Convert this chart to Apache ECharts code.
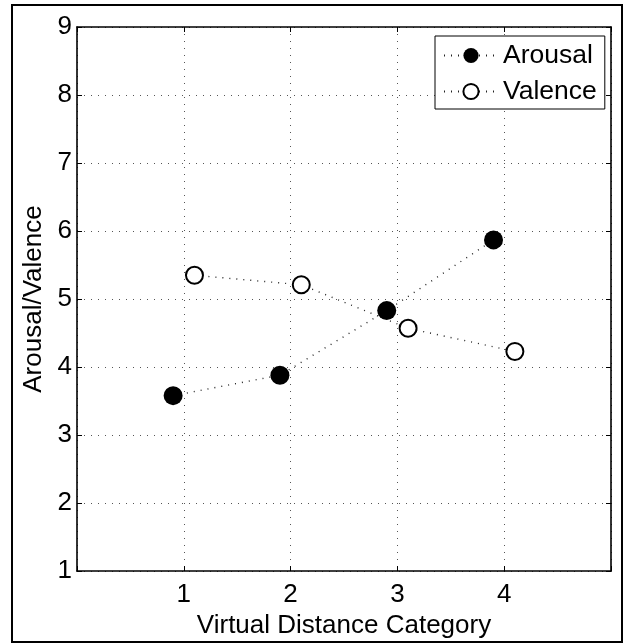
<!DOCTYPE html>
<html>
<head>
<meta charset="utf-8">
<script src="https://cdn.jsdelivr.net/npm/echarts@6/dist/echarts.min.js"></script>
<style>
  html, body { margin: 0; padding: 0; background: #fff; }
  #chart { width: 628px; height: 644px; }
</style>
</head>
<body>
<div id="chart"></div>
<script>
// Data
const seriesNames = ['Arousal', 'Valence'];
const arousalX = [0.9, 1.9, 2.9, 3.9];
const arousalY = [3.58, 3.88, 4.83, 5.87];
const valenceX = [1.1, 2.1, 3.1, 4.1];
const valenceY = [5.35, 5.21, 4.57, 4.23];
const xTickLabels = ['1', '2', '3', '4'];
const yTickLabels = ['1', '2', '3', '4', '5', '6', '7', '8', '9'];

const FONT = "'Liberation Sans', Arial, Helvetica, sans-serif";
const chart = echarts.init(document.getElementById('chart'));

function pairs(xs, ys) { return xs.map((x, i) => [x, ys[i]]); }

const gridLine = { show: true, lineStyle: { color: '#555', width: 1, type: [1, 6] } };

chart.setOption({
  animation: false,
  backgroundColor: '#fff',
  textStyle: { fontFamily: FONT },
  graphic: [{
    type: 'rect', shape: { x: 12, y: 5, width: 610, height: 637 },
    style: { fill: 'none', stroke: '#000', lineWidth: 2 }, z: 100, silent: true
  }],
  grid: { left: 77, top: 27, right: 17, bottom: 69, containLabel: false },
  legend: {
    data: seriesNames,
    orient: 'vertical',
    left: 435, top: 36,
    padding: [6, 8, 4, 8],
    itemGap: 9,
    itemWidth: 54, itemHeight: 19,
    backgroundColor: '#fff', borderColor: '#000', borderWidth: 1,
    textStyle: { fontSize: 26.5, lineHeight: 26, color: '#000', fontFamily: FONT },
    z: 10
  },
  xAxis: [{
    type: 'value', min: 0, max: 5, interval: 1,
    name: 'Virtual Distance Category', nameLocation: 'middle', nameGap: 35,
    nameTextStyle: { fontSize: 26, color: '#000', fontFamily: FONT },
    axisLine: { show: true, onZero: false, lineStyle: { color: '#000', width: 1.6 } },
    axisTick: { show: true, inside: true, length: 5, lineStyle: { color: '#000' } },
    axisLabel: {
      fontSize: 26, color: '#000', margin: 11, fontFamily: FONT,
      formatter: v => (v >= 1 && v <= 4) ? xTickLabels[v - 1] : ''
    },
    splitLine: gridLine
  }, {
    type: 'value', min: 0, max: 5, interval: 1, position: 'top',
    axisLine: { show: true, onZero: false, lineStyle: { color: '#000', width: 1.6 } },
    axisTick: { show: true, inside: true, length: 5, lineStyle: { color: '#000' } },
    axisLabel: { show: false }, splitLine: { show: false }
  }],
  yAxis: [{
    type: 'value', min: 1, max: 9, interval: 1,
    name: 'Arousal/Valence', nameLocation: 'middle', nameGap: 30, nameRotate: 90,
    nameTextStyle: { fontSize: 26, color: '#000', fontFamily: FONT },
    axisLine: { show: true, onZero: false, lineStyle: { color: '#000', width: 1.6 } },
    axisTick: { show: true, inside: true, length: 5, lineStyle: { color: '#000' } },
    axisLabel: {
      fontSize: 26, color: '#000', margin: 5, fontFamily: FONT,
      formatter: v => yTickLabels[v - 1] || ''
    },
    splitLine: gridLine
  }, {
    type: 'value', min: 1, max: 9, interval: 1, position: 'right',
    axisLine: { show: true, onZero: false, lineStyle: { color: '#000', width: 1.6 } },
    axisTick: { show: true, inside: true, length: 5, lineStyle: { color: '#000' } },
    axisLabel: { show: false }, splitLine: { show: false }
  }],
  series: [{
    name: seriesNames[0], type: 'line',
    data: pairs(arousalX, arousalY),
    symbol: 'circle', symbolSize: 19,
    itemStyle: { color: '#000', borderColor: '#000', borderWidth: 0 },
    lineStyle: { color: '#222', width: 1.4, type: [1, 6] },
    z: 3
  }, {
    name: seriesNames[1], type: 'line',
    data: pairs(valenceX, valenceY),
    symbol: 'circle', symbolSize: 17,
    itemStyle: { color: '#fff', borderColor: '#000', borderWidth: 2 },
    lineStyle: { color: '#222', width: 1.4, type: [1, 6] },
    z: 3
  }]
});
</script>
</body>
</html>
